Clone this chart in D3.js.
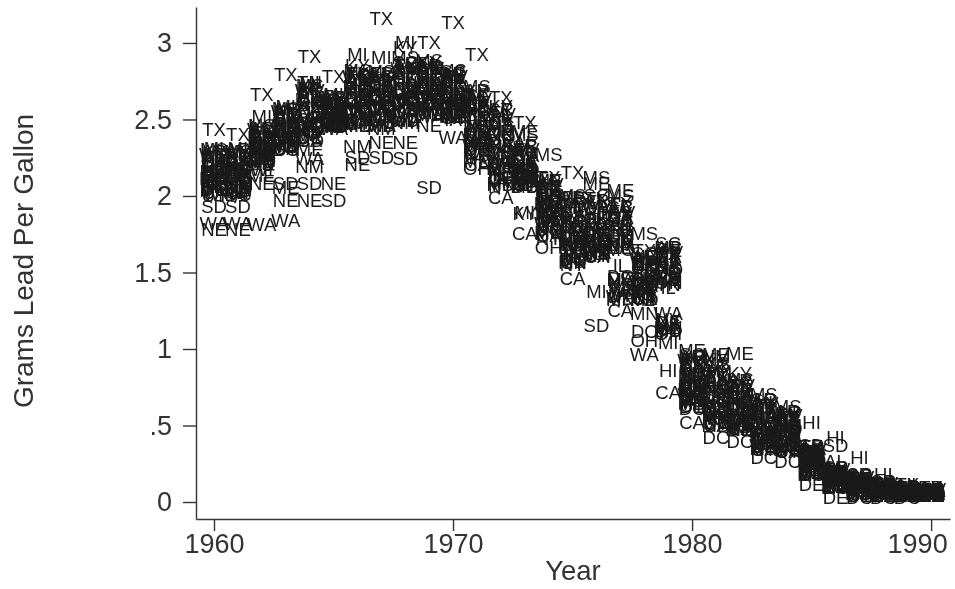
<!DOCTYPE html>
<html>
<head>
<meta charset="utf-8">
<script src="https://cdn.jsdelivr.net/npm/d3@7"></script>
<style>
	html,body{margin:0;padding:0;background:#fff}
	svg{display:block}
	text{font-family:"Liberation Sans",Arial,sans-serif}
	#chart{filter:blur(0.45px)}
</style>
</head>
<body>
<svg id="chart" width="955" height="589"></svg>
<script>
const years = d3.range(1960,1991)
const xTicks = [1960,1970,1980,1990]
const yTicks = [0,0.5,1,1.5,2,2.5,3]
const yTickLabels = ["0",".5","1","1.5","2","2.5","3"]
const states = ["TX","MI","MS","KY","ME","NE","SD","WA","CA","HI","DC","DE","OH","NM","IL","SC","GA","AL","TN","VA","NC","WI","IN","MN","FL","PA","NY","AZ","IA","MO"]
const statesMore = ["AR","LA","OK","KS","CO","UT","WV","OR","MD","NJ","CT","MA"]

// one row per year, same order as states., blob interiors are estimates
const lead = [
	[2.43,2.31,2.30,2.28,2.12,1.78,1.93,1.82,2.02,2.06,2.04,2.19,2.10,2.16,2.08,2.26,2.22,2.24,2.20,2.14,2.18,2.01,2.09,2.03,2.25,2.13,2.07,2.15,2.05,2.11],
	[2.40,2.31,2.29,2.27,2.10,1.78,1.93,1.82,2.03,2.07,2.01,2.20,2.12,2.17,2.06,2.25,2.23,2.21,2.18,2.15,2.19,2.02,2.08,2.04,2.26,2.14,2.05,2.16,2.00,2.11],
	[2.66,2.52,2.46,2.44,2.13,2.08,2.21,1.81,2.24,2.28,2.26,2.35,2.30,2.33,2.25,2.42,2.39,2.40,2.37,2.31,2.36,2.17,2.27,2.23,2.41,2.32,2.29,2.34,2.22,2.38],
	[2.79,2.58,2.57,2.55,2.05,1.97,2.08,1.84,2.31,2.35,2.30,2.44,2.40,2.38,2.33,2.53,2.50,2.52,2.47,2.41,2.48,2.32,2.37,2.34,2.54,2.43,2.36,2.45,2.39,2.46],
	[2.91,2.74,2.72,2.70,2.30,1.97,2.08,2.24,2.36,2.47,2.38,2.55,2.50,2.19,2.42,2.68,2.62,2.65,2.74,2.52,2.60,2.40,2.46,2.44,2.66,2.56,2.48,2.58,2.43,2.63],
	[2.78,2.66,2.64,2.62,2.46,2.08,1.97,2.44,2.47,2.58,2.50,2.60,2.54,2.46,2.52,2.63,2.61,2.59,2.56,2.53,2.57,2.45,2.51,2.48,2.65,2.55,2.49,2.56,2.47,2.60],
	[2.80,2.92,2.82,2.85,2.46,2.20,2.25,2.47,2.50,2.72,2.55,2.70,2.62,2.32,2.58,2.78,2.74,2.76,2.68,2.60,2.66,2.48,2.57,2.52,2.80,2.64,2.54,2.69,2.51,2.71],
	[3.16,2.90,2.81,2.79,2.48,2.35,2.25,2.46,2.50,2.75,2.58,2.72,2.65,2.44,2.60,2.78,2.73,2.76,2.70,2.62,2.68,2.52,2.59,2.55,2.80,2.66,2.56,2.69,2.53,2.64],
	[2.85,3.00,2.90,2.97,2.52,2.35,2.24,2.49,2.55,2.80,2.60,2.76,2.68,2.48,2.63,2.87,2.82,2.84,2.74,2.66,2.72,2.57,2.62,2.58,2.85,2.70,2.61,2.78,2.54,2.64],
	[3.00,2.85,2.88,2.87,2.56,2.46,2.05,2.52,2.60,2.79,2.63,2.76,2.70,2.54,2.66,2.84,2.81,2.83,2.74,2.68,2.72,2.58,2.65,2.61,2.86,2.71,2.64,2.78,2.59,2.69],
	[3.13,2.80,2.82,2.78,2.55,2.52,2.60,2.38,2.54,2.74,2.57,2.70,2.64,2.53,2.60,2.81,2.76,2.79,2.68,2.62,2.66,2.51,2.59,2.56,2.77,2.65,2.58,2.72,2.50,2.63],
	[2.92,2.55,2.71,2.68,2.45,2.38,2.42,2.32,2.20,2.62,2.30,2.58,2.18,2.40,2.34,2.66,2.60,2.64,2.52,2.48,2.56,2.36,2.44,2.33,2.65,2.50,2.28,2.59,2.25,2.54],
	[2.64,2.20,2.45,2.58,2.33,2.16,2.24,2.22,1.99,2.52,2.12,2.36,2.10,2.26,2.14,2.56,2.48,2.50,2.42,2.30,2.40,2.18,2.28,2.08,2.54,2.34,2.06,2.46,2.09,2.38],
	[2.48,1.89,2.40,1.88,2.42,2.10,2.16,2.26,1.75,2.20,2.06,2.24,2.08,2.14,2.07,2.32,2.22,2.35,2.12,2.18,2.28,2.11,2.13,2.09,2.30,2.15,2.07,2.19,2.10,2.17],
	[2.12,1.92,2.27,1.88,2.10,1.90,2.00,1.82,1.74,2.04,1.78,1.98,1.66,1.94,1.84,2.06,2.02,2.08,1.96,1.86,2.00,1.80,1.88,1.76,2.11,1.90,1.72,2.03,1.84,1.95],
	[2.15,1.62,2.00,1.86,1.98,1.70,1.76,1.68,1.46,1.92,1.58,1.80,1.64,1.74,1.60,1.96,1.88,1.90,1.82,1.72,1.84,1.66,1.77,1.56,1.99,1.78,1.55,1.86,1.61,1.69],
	[1.98,1.37,2.12,1.80,2.08,1.72,1.15,1.63,1.60,1.88,1.65,1.74,1.70,1.76,1.62,2.00,1.92,1.95,1.84,1.69,1.82,1.67,1.78,1.61,1.96,1.75,1.64,1.86,1.68,1.71],
	[1.95,1.40,2.00,1.88,2.03,1.66,1.72,1.34,1.25,1.78,1.47,1.46,1.74,1.68,1.54,1.92,1.86,1.90,1.80,1.70,1.84,1.38,1.76,1.32,1.94,1.70,1.44,1.82,1.36,1.65],
	[1.64,1.34,1.75,1.56,1.60,1.44,1.50,0.96,1.33,1.52,1.11,1.42,1.05,1.46,1.36,1.62,1.57,1.59,1.48,1.40,1.54,1.32,1.43,1.23,1.58,1.45,1.35,1.55,1.38,1.41],
	[1.62,1.04,1.66,1.55,1.64,1.45,1.50,1.23,0.71,0.86,1.12,1.17,1.10,1.44,1.40,1.69,1.60,1.58,1.42,1.48,1.53,1.18,1.46,1.14,1.61,1.47,1.19,1.56,1.11,1.52],
	[0.90,0.78,0.94,0.92,0.99,0.72,0.76,0.70,0.52,0.80,0.61,0.62,0.74,0.82,0.68,0.96,0.86,0.88,0.84,0.71,0.85,0.67,0.77,0.65,0.93,0.75,0.69,0.83,0.66,0.73],
	[0.82,0.64,0.90,0.93,0.96,0.60,0.66,0.56,0.50,0.86,0.42,0.52,0.62,0.95,0.58,0.88,0.78,0.80,0.74,0.68,0.76,0.54,0.70,0.55,0.84,0.72,0.53,0.77,0.57,0.65],
	[0.76,0.56,0.80,0.84,0.97,0.52,0.60,0.50,0.48,0.72,0.39,0.47,0.54,0.70,0.53,0.78,0.68,0.74,0.64,0.58,0.66,0.49,0.62,0.51,0.75,0.61,0.47,0.69,0.55,0.59],
	[0.62,0.44,0.70,0.60,0.58,0.42,0.48,0.37,0.34,0.65,0.29,0.36,0.43,0.54,0.40,0.67,0.56,0.59,0.50,0.46,0.52,0.38,0.47,0.39,0.63,0.45,0.35,0.57,0.41,0.49],
	[0.55,0.42,0.62,0.57,0.53,0.39,0.46,0.35,0.33,0.59,0.26,0.34,0.41,0.50,0.38,0.58,0.51,0.52,0.47,0.44,0.49,0.37,0.43,0.36,0.56,0.45,0.34,0.54,0.40,0.48],
	[0.36,0.25,0.33,0.31,0.30,0.22,0.37,0.35,0.20,0.52,0.18,0.11,0.24,0.29,0.21,0.34,0.30,0.32,0.27,0.26,0.28,0.19,0.23,0.18,0.33,0.25,0.20,0.31,0.21,0.27],
	[0.21,0.14,0.20,0.18,0.17,0.12,0.37,0.19,0.10,0.42,0.09,0.03,0.13,0.16,0.11,0.22,0.18,0.26,0.15,0.14,0.16,0.10,0.13,0.09,0.20,0.14,0.11,0.17,0.12,0.15],
	[0.16,0.09,0.15,0.13,0.12,0.07,0.18,0.14,0.05,0.29,0.03,0.04,0.08,0.11,0.07,0.17,0.13,0.14,0.10,0.09,0.12,0.06,0.08,0.05,0.15,0.10,0.06,0.13,0.07,0.11],
	[0.12,0.06,0.11,0.09,0.08,0.05,0.13,0.10,0.04,0.18,0.03,0.04,0.06,0.08,0.05,0.12,0.09,0.10,0.07,0.07,0.09,0.05,0.06,0.04,0.11,0.07,0.05,0.09,0.06,0.08],
	[0.11,0.05,0.09,0.07,0.07,0.04,0.10,0.08,0.04,0.11,0.03,0.04,0.05,0.06,0.05,0.09,0.08,0.08,0.06,0.06,0.07,0.04,0.05,0.04,0.09,0.06,0.05,0.07,0.05,0.06],
	[0.09,0.05,0.08,0.06,0.06,0.04,0.07,0.07,0.04,0.09,0.04,0.04,0.05,0.05,0.05,0.08,0.07,0.07,0.06,0.05,0.06,0.05,0.05,0.04,0.08,0.06,0.05,0.06,0.05,0.05]
]
// the remaining states, only visible inside the blobs
const leadMore = [
	[2.29,2.17,2.23,2.06,2.12,2.00,2.27,2.10,2.04,2.16,2.21,2.09],
	[2.30,2.16,2.22,2.05,2.13,2.02,2.28,2.08,2.03,2.17,2.24,2.10],
	[2.44,2.29,2.36,2.20,2.26,2.23,2.43,2.25,2.22,2.31,2.38,2.28],
	[2.56,2.42,2.49,2.33,2.38,2.30,2.55,2.36,2.32,2.44,2.51,2.40],
	[2.70,2.52,2.61,2.41,2.47,2.38,2.69,2.45,2.36,2.54,2.64,2.49],
	[2.64,2.52,2.58,2.46,2.50,2.47,2.63,2.49,2.45,2.54,2.60,2.51],
	[2.79,2.62,2.70,2.50,2.56,2.47,2.77,2.54,2.46,2.64,2.73,2.58],
	[2.80,2.64,2.72,2.52,2.58,2.49,2.77,2.56,2.46,2.66,2.74,2.60],
	[2.86,2.68,2.77,2.56,2.62,2.50,2.83,2.60,2.49,2.70,2.80,2.65],
	[2.85,2.70,2.78,2.60,2.65,2.54,2.83,2.63,2.53,2.73,2.80,2.67],
	[2.80,2.64,2.73,2.56,2.60,2.51,2.78,2.58,2.52,2.67,2.75,2.62],
	[2.69,2.40,2.57,2.26,2.36,2.31,2.63,2.28,2.22,2.46,2.61,2.38],
	[2.56,2.22,2.40,2.16,2.28,2.11,2.53,2.18,2.07,2.32,2.47,2.20],
	[2.33,2.12,2.23,2.09,2.16,2.07,2.30,2.11,2.06,2.18,2.27,2.13],
	[2.10,1.86,2.01,1.78,1.92,1.74,2.07,1.83,1.76,1.96,2.05,1.88],
	[1.99,1.68,1.87,1.58,1.74,1.56,1.94,1.64,1.57,1.79,1.90,1.70],
	[1.97,1.70,1.85,1.63,1.76,1.61,1.93,1.67,1.62,1.79,1.89,1.72],
	[1.93,1.66,1.84,1.42,1.74,1.35,1.89,1.68,1.33,1.78,1.86,1.45],
	[1.60,1.39,1.53,1.34,1.43,1.33,1.58,1.37,1.32,1.46,1.55,1.41],
	[1.66,1.46,1.59,1.16,1.50,1.13,1.63,1.43,1.12,1.53,1.61,1.15],
	[0.95,0.72,0.87,0.66,0.78,0.63,0.92,0.70,0.64,0.81,0.89,0.74],
	[0.89,0.60,0.79,0.53,0.68,0.51,0.85,0.58,0.50,0.72,0.81,0.63],
	[0.79,0.55,0.71,0.49,0.62,0.48,0.76,0.53,0.47,0.65,0.73,0.57],
	[0.67,0.44,0.59,0.36,0.51,0.34,0.64,0.41,0.35,0.55,0.61,0.46],
	[0.59,0.41,0.53,0.35,0.46,0.33,0.56,0.39,0.34,0.49,0.54,0.43],
	[0.36,0.25,0.32,0.20,0.28,0.18,0.34,0.23,0.19,0.29,0.33,0.26],
	[0.22,0.14,0.19,0.11,0.16,0.09,0.21,0.13,0.10,0.17,0.20,0.15],
	[0.18,0.09,0.14,0.06,0.11,0.04,0.16,0.08,0.05,0.12,0.15,0.10],
	[0.13,0.07,0.10,0.05,0.08,0.04,0.12,0.06,0.04,0.09,0.11,0.07],
	[0.10,0.06,0.08,0.05,0.07,0.04,0.09,0.06,0.04,0.07,0.08,0.05],
	[0.09,0.06,0.07,0.05,0.06,0.05,0.08,0.06,0.04,0.07,0.07,0.05]
]

const axisColor = "#333"
const labelColor = "#1a1a1a"

let svg = d3.select("#chart")
let x = d3.scaleLinear().domain([1959.247,1990.79]).range([196,950])
let y = d3.scaleLinear().domain([-0.111,3.235]).range([519,7])

let xAxis = svg.append("g")
	.attr("transform","translate(0,519)")
	.call(d3.axisBottom(x).tickValues(xTicks).tickFormat(d3.format("d")).tickSize(12).tickSizeOuter(0))
let yAxis = svg.append("g")
	.attr("transform","translate(196,0)")
	.call(d3.axisLeft(y).tickValues(yTicks).tickFormat((d,i)=>yTickLabels[i]).tickSize(13).tickSizeOuter(0))

for(let axis of [xAxis,yAxis]){
	axis.selectAll("path,line").attr("stroke",axisColor).attr("stroke-width",1.4)
	axis.selectAll("text")
		.attr("fill",axisColor)
		.style("font-family",'"Liberation Sans",Arial,sans-serif')
		.style("font-size","27px")
}
xAxis.selectAll("text").attr("dy","0.7em")
yAxis.selectAll("text").attr("dx","-0.3em")
// stata pulls the last label back inside the plot region
xAxis.selectAll(".tick").filter(d=>d==1990).select("text").attr("dx",-14)

let rows = []
years.forEach((year,i)=>{
	states.forEach((st,j)=>{
		rows.push({year:year,state:st,value:lead[i][j]})
	})
	statesMore.forEach((st,j)=>{
		rows.push({year:year,state:st,value:leadMore[i][j]})
	})
})

svg.append("g").selectAll("text")
	.data(rows)
	.join("text")
	.attr("x",d=>x(d.year))
	.attr("y",d=>y(d.value))
	.attr("dy","0.33em")
	.attr("text-anchor","middle")
	.attr("fill",labelColor)
	.style("font-size","18.5px")
	.text(d=>d.state)

svg.append("text")
	.attr("x",573)
	.attr("y",580)
	.attr("text-anchor","middle")
	.attr("fill",axisColor)
	.style("font-size","27.5px")
	.text("Year")

svg.append("text")
	.attr("transform","translate(33,261) rotate(-90)")
	.attr("text-anchor","middle")
	.attr("fill",axisColor)
	.style("font-size","28px")
	.text("Grams Lead Per Gallon")
</script>
</body>
</html>
